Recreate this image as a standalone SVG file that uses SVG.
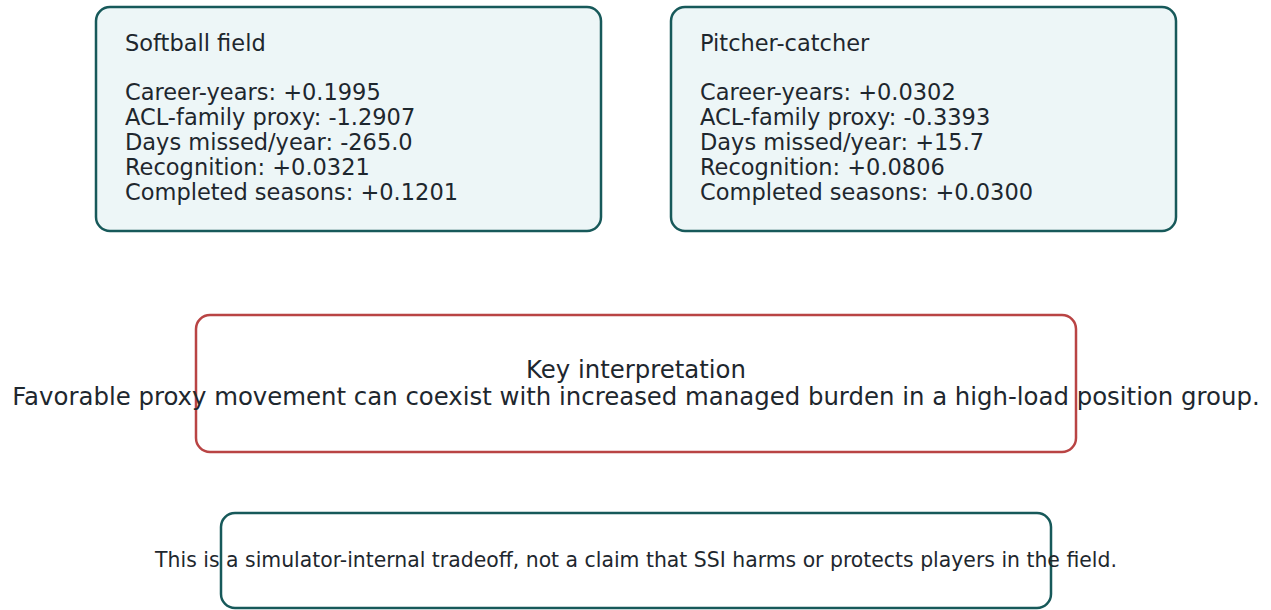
<svg xmlns="http://www.w3.org/2000/svg" width="1271" height="610" viewBox="0 0 1271 610">
<style>
text{font-family:"DejaVu Sans","Liberation Sans",sans-serif;fill:#1e272e}
.card{fill:#edf6f7;stroke:#17595a;stroke-width:2.5}
.key{fill:#ffffff;stroke:#b94444;stroke-width:2.5}
.note{fill:#ffffff;stroke:#17595a;stroke-width:2.5}
.t{font-size:22.5px}
.k{font-size:24.4px}
.n{font-size:20.4px}
</style>
<rect width="1271" height="610" fill="#ffffff"/>
<g id="connectors"></g>
<g id="softball-field">
<rect class="card" x="96" y="7" width="505" height="224" rx="14"/>
<text class="t" x="125" y="51">Softball field</text>
<text class="t" x="125" y="100">Career-years: +0.1995</text>
<text class="t" x="125" y="125">ACL-family proxy: -1.2907</text>
<text class="t" x="125" y="150">Days missed/year: -265.0</text>
<text class="t" x="125" y="175">Recognition: +0.0321</text>
<text class="t" x="125" y="200">Completed seasons: +0.1201</text>
</g>
<g id="pitcher-catcher">
<rect class="card" x="671" y="7" width="505" height="224" rx="14"/>
<text class="t" x="700" y="51">Pitcher-catcher</text>
<text class="t" x="700" y="100">Career-years: +0.0302</text>
<text class="t" x="700" y="125">ACL-family proxy: -0.3393</text>
<text class="t" x="700" y="150">Days missed/year: +15.7</text>
<text class="t" x="700" y="175">Recognition: +0.0806</text>
<text class="t" x="700" y="200">Completed seasons: +0.0300</text>
</g>
<g id="key-interpretation">
<rect class="key" x="196" y="315" width="880" height="137" rx="14"/>
<text class="k" x="636" y="378" text-anchor="middle">Key interpretation</text>
<text class="k" x="636" y="405" text-anchor="middle">Favorable proxy movement can coexist with increased managed burden in a high-load position group.</text>
</g>
<g id="caveat">
<rect class="note" x="221" y="513" width="830" height="95" rx="14"/>
<text class="n" x="636" y="567" text-anchor="middle">This is a simulator-internal tradeoff, not a claim that SSI harms or protects players in the field.</text>
</g>
</svg>
